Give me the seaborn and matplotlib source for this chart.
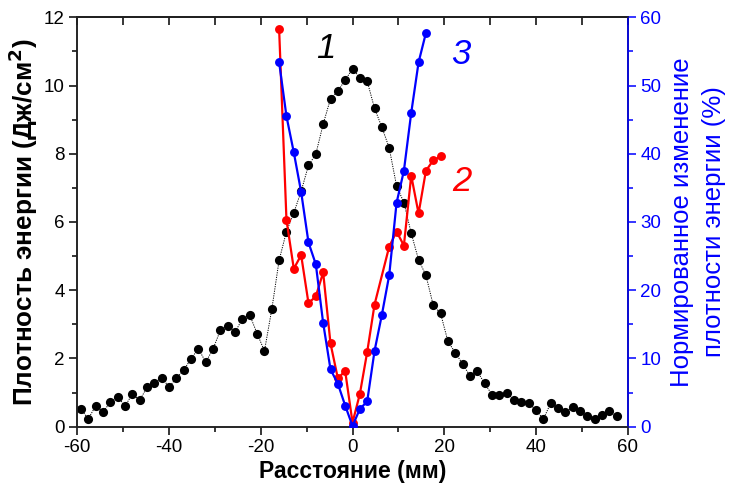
import matplotlib
matplotlib.use("Agg")
import matplotlib.pyplot as plt
import seaborn as sns
import numpy as np
import pandas as pd
from matplotlib.ticker import MultipleLocator

sns.set_theme(style="white")
plt.rcParams['font.family'] = ['Liberation Sans', 'DejaVu Sans']
plt.rcParams['axes.unicode_minus'] = False
plt.rcParams['text.color'] = 'black'
plt.rcParams['axes.labelcolor'] = 'black'

# Curve 1 (black): energy density profile, J/cm^2
x1 = [-59.2, -57.6, -56.0, -54.4, -52.8, -51.2, -49.6, -48.0, -46.4, -44.8,
      -43.2, -41.6, -40.0, -38.4, -36.8, -35.2, -33.6, -32.0, -30.4, -28.8,
      -27.2, -25.6, -24.0, -22.4, -20.8, -19.2, -17.6, -16.0, -14.4, -12.8,
      -11.2, -9.6, -8.0, -6.4, -4.8, -3.2, -1.6, 0.0, 1.6, 3.2,
      4.8, 6.4, 8.0, 9.6, 11.2, 12.8, 14.4, 16.0, 17.6, 19.2,
      20.8, 22.4, 24.0, 25.6, 27.2, 28.8, 30.4, 32.0, 33.6, 35.2,
      36.8, 38.4, 40.0, 41.6, 43.2, 44.8, 46.4, 48.0, 49.6, 51.2,
      52.8, 54.4, 56.0, 57.6]
y1 = [0.51, 0.23, 0.61, 0.44, 0.71, 0.88, 0.60, 0.96, 0.77, 1.16,
      1.28, 1.44, 1.16, 1.43, 1.66, 1.99, 2.29, 1.89, 2.28, 2.83,
      2.95, 2.77, 3.17, 3.27, 2.73, 2.22, 3.44, 4.88, 5.72, 6.27,
      6.90, 7.66, 7.99, 8.87, 9.61, 9.84, 10.16, 10.49, 10.23, 10.13,
      9.33, 8.78, 8.17, 7.06, 6.57, 5.67, 4.89, 4.44, 3.56, 3.32,
      2.50, 2.17, 1.84, 1.49, 1.62, 1.27, 0.94, 0.94, 1.00, 0.78,
      0.72, 0.69, 0.49, 0.22, 0.69, 0.55, 0.43, 0.57, 0.45, 0.31,
      0.22, 0.33, 0.45, 0.31]

# Curve 2 (red): energy density, J/cm^2
x2 = [-16.0, -14.4, -12.8, -11.2, -9.6, -8.0, -6.4, -4.8, -3.2, -1.6,
      0.0, 1.6, 3.2, 4.8, 8.0, 9.6, 11.2, 12.8, 14.4, 16.0, 17.6, 19.2]
y2 = [11.65, 6.06, 4.63, 5.03, 3.62, 3.82, 4.52, 2.44, 1.42, 1.63,
      0.12, 0.96, 2.19, 3.58, 5.28, 5.72, 5.31, 7.36, 6.25, 7.50, 7.81, 7.92]

# Curve 3 (blue): normalized change of energy density, %
x3 = [-16.0, -14.4, -12.8, -11.2, -9.6, -8.0, -6.4, -4.8, -3.2, -1.6,
      0.0, 1.6, 3.2, 4.8, 6.4, 8.0, 9.6, 11.2, 12.8, 14.4, 16.0]
y3 = [53.4, 45.5, 40.2, 34.4, 27.0, 23.8, 15.2, 8.4, 6.3, 3.1,
      0.1, 2.6, 3.7, 11.1, 16.4, 22.2, 32.8, 37.5, 46.0, 53.4, 57.7]

fig = plt.figure(figsize=(7.3, 4.9), dpi=100)
ax = fig.add_axes([0.1059, 0.1292, 0.754, 0.8355])

sns.lineplot(x=x1, y=y1, ax=ax, color='black', marker='o', markersize=6.6,
             markeredgewidth=0, linestyle=(0, (1.2, 1.2)), linewidth=0.7,
             sort=False, zorder=2)
sns.lineplot(x=x2, y=y2, ax=ax, color='#ff0000', marker='o', markersize=6.4,
             markeredgewidth=0, linewidth=1.6, sort=False, zorder=3)

ax2 = ax.twinx()
sns.lineplot(x=x3, y=y3, ax=ax2, color='#0000ff', marker='o', markersize=6.4,
             markeredgewidth=0, linewidth=1.6, sort=False, zorder=3)

ax.set_xlim(-60, 60)
ax.set_ylim(0, 12)
ax2.set_ylim(0, 60)

ax.xaxis.set_major_locator(MultipleLocator(20))
ax.xaxis.set_minor_locator(MultipleLocator(10))
ax.yaxis.set_major_locator(MultipleLocator(2))
ax.yaxis.set_minor_locator(MultipleLocator(1))
ax2.yaxis.set_major_locator(MultipleLocator(10))
ax2.yaxis.set_minor_locator(MultipleLocator(5))

for s in ax.spines.values():
    s.set_linewidth(1.1)
    s.set_color('black')
for s in ax2.spines.values():
    s.set_linewidth(1.1)
ax2.spines['right'].set_color('#0000ff')

ax.tick_params(axis='both', which='major', direction='out', length=6, width=1.1,
               labelsize=13.5, colors='black', left=True, bottom=True, pad=3)
ax.tick_params(axis='both', which='minor', direction='out', length=3.5, width=1.1,
               colors='black', left=True, bottom=True)
ax2.tick_params(axis='y', which='major', direction='out', length=6, width=1.1,
                labelsize=13.5, colors='#0000ff', right=True, pad=3)
ax2.tick_params(axis='y', which='minor', direction='out', length=3.5, width=1.1,
                colors='#0000ff', right=True)

top = ax.secondary_xaxis('top')
top.xaxis.set_major_locator(MultipleLocator(10))
top.tick_params(axis='x', which='major', direction='in', length=6, width=1.1,
                labeltop=False, colors='black')
top.spines['top'].set_linewidth(1.1)

ax.set_xlabel('Расстояние (мм)', fontsize=16.5, fontweight='bold', labelpad=3,
              color='black')
ax.set_ylabel('Плотность энергии (Дж/см$^\\mathbf{2}$)', fontsize=18.8,
              fontweight='bold', labelpad=3, color='black')
ax2.set_ylabel('Нормированное изменение\nплотности энергии (%)', fontsize=18.5,
               color='#0000ff', labelpad=6, linespacing=1.45)

ax.text(-5.8, 11.1, '1', fontsize=25, fontstyle='italic', color='black',
        ha='center', va='center')
ax.text(23.6, 10.9, '3', fontsize=25, fontstyle='italic', color='#0000ff',
        ha='center', va='center')
ax.text(23.9, 7.2, '2', fontsize=25, fontstyle='italic', color='#ff0000',
        ha='center', va='center')

ax.grid(False)
ax2.grid(False)

fig.savefig('out.png', dpi=100)
